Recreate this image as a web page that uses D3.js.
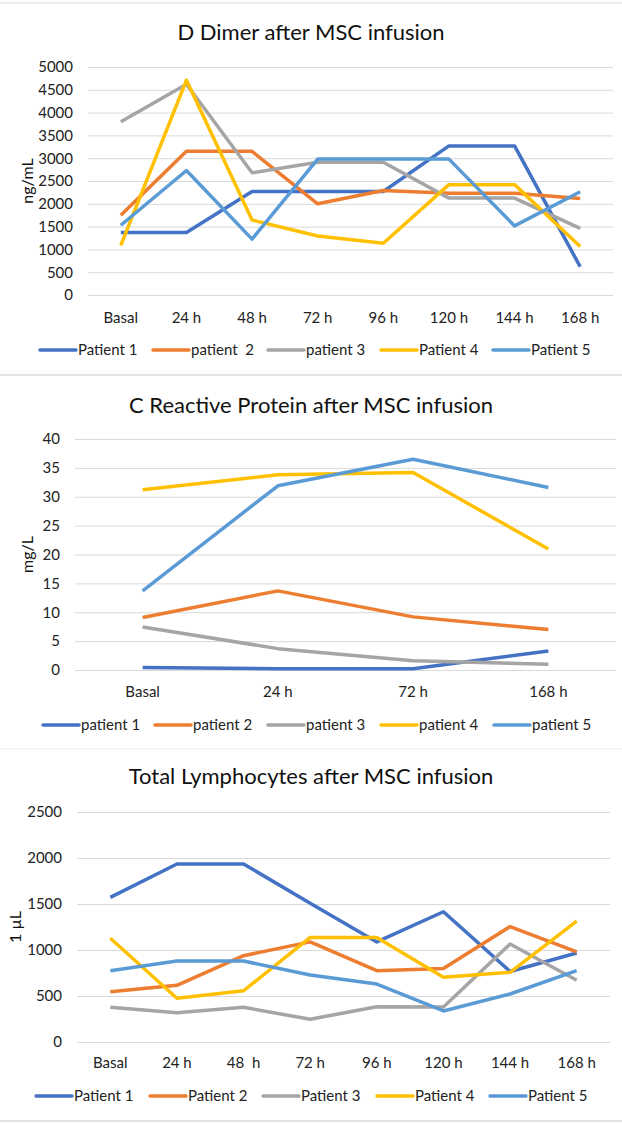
<!DOCTYPE html>
<html>
<head>
<meta charset="utf-8">
<script src="https://cdn.jsdelivr.net/npm/d3@7"></script>
<style>
  html, body { margin: 0; padding: 0; background: #fff; }
  svg { display: block; font-family: Lato, "Open Sans", sans-serif; }
</style>
</head>
<body>
<svg id="chart" width="622" height="1123"></svg>
<script>
/* global d3 */

// ─── Data ────────────────────────────────────────────────────────────────────

var COLORS = ['#4472C4', '#ED7D31', '#A5A5A5', '#FFC000', '#5B9BD5'];

// D Dimer (ng/mL)
var dimerTimes = ['Basal', '24 h', '48 h', '72 h', '96 h', '120 h', '144 h', '168 h'];
var dimerNames = ['Patient 1', 'patient  2', 'patient 3', 'Patient 4', 'Patient 5'];
var dimerP1 = [1370, 1370, 2270, 2270, 2270, 3270, 3270, 620];
var dimerP2 = [1750, 3150, 3150, 2000, 2290, 2230, 2230, 2115];
var dimerP3 = [3800, 4620, 2680, 2910, 2910, 2125, 2125, 1460];
var dimerP4 = [1090, 4710, 1645, 1295, 1135, 2420, 2420, 1065];
var dimerP5 = [1530, 2730, 1225, 2980, 2980, 2980, 1515, 2265];
var dimerTicks = [0, 500, 1000, 1500, 2000, 2500, 3000, 3500, 4000, 4500, 5000];

// C Reactive Protein (mg/L)
var crpTimes = ['Basal', '24 h', '72 h', '168 h'];
var crpNames = ['patient 1', 'patient 2', 'patient 3', 'patient 4', 'patient 5'];
var crpP1 = [0.45, 0.2, 0.2, 3.3];
var crpP2 = [9.1, 13.7, 9.2, 7.0];
var crpP3 = [7.45, 3.7, 1.6, 1.0];
var crpP4 = [31.2, 33.8, 34.2, 20.95];
var crpP5 = [13.7, 31.9, 36.5, 31.6];
var crpTicks = [0, 5, 10, 15, 20, 25, 30, 35, 40];

// Total Lymphocytes (/µL)
var lymTimes = ['Basal', '24 h', '48  h', '72 h', '96 h', '120 h', '144 h', '168 h'];
var lymNames = ['Patient 1', 'Patient 2', 'Patient 3', 'Patient 4', 'Patient 5'];
var lymP1 = [1572, 1935, 1935, 1507, 1088, 1416, 766, 968];
var lymP2 = [547, 616, 938, 1088, 775, 800, 1255, 980];
var lymP3 = [377, 318, 377, 247, 384, 380, 1065, 672];
var lymP4 = [1127, 475, 557, 1137, 1137, 703, 758, 1315];
var lymP5 = [775, 880, 880, 728, 630, 337, 522, 775];
var lymTicks = [0, 500, 1000, 1500, 2000, 2500];

// ─── Layout per panel ────────────────────────────────────────────────────────

var panels = [
  {
    title: 'D Dimer after MSC infusion', titleY: 40, unit: 'ng/mL', unitX: 27,
    times: dimerTimes, names: dimerNames, series: [dimerP1, dimerP2, dimerP3, dimerP4, dimerP5],
    ticks: dimerTicks, x0: 88, x1: 613, yTop: 67, yBottom: 295, tickX: 73,
    labelY: 323, legendY: 350, legendX: [40, 153, 268, 381, 493]
  },
  {
    title: 'C Reactive Protein after MSC infusion', titleY: 413, unit: 'mg/L', unitX: 27,
    times: crpTimes, names: crpNames, series: [crpP1, crpP2, crpP3, crpP4, crpP5],
    ticks: crpTicks, x0: 75, x1: 616, yTop: 439, yBottom: 670, tickX: 60,
    labelY: 697, legendY: 725, legendX: [43, 155, 268, 381, 494]
  },
  {
    title: 'Total Lymphocytes after MSC infusion', titleY: 784, unit: '1 µL', unitX: 15,
    times: lymTimes, names: lymNames, series: [lymP1, lymP2, lymP3, lymP4, lymP5],
    ticks: lymTicks, x0: 77, x1: 610, yTop: 812, yBottom: 1042, tickX: 62,
    labelY: 1068, legendY: 1096, legendX: [36, 150, 263, 377, 490]
  }
];

var svg = d3.select('#chart');

// panel separators
[[3, '#dcdcdc', 1.2], [375, '#dcdcdc', 1.5], [749, '#f3f3f3', 1.5], [1121, '#e3e3e3', 2]]
  .forEach(function (s) {
    svg.append('line')
      .attr('x1', 0).attr('x2', 622).attr('y1', s[0]).attr('y2', s[0])
      .attr('stroke', s[1]).attr('stroke-width', s[2]);
  });

function drawPanel(p) {
  var g = svg.append('g');

  var x = d3.scaleBand().domain(p.times).range([p.x0, p.x1]);
  var y = d3.scaleLinear()
    .domain([0, d3.max(p.ticks)])
    .range([p.yBottom, p.yTop]);

  g.append('text')
    .attr('x', 311).attr('y', p.titleY)
    .attr('text-anchor', 'middle')
    .attr('font-size', 22)
    .attr('fill', '#111')
    .text(p.title);

  // gridlines + y tick labels
  var yAxis = d3.axisLeft(y)
    .tickValues(p.ticks)
    .tickFormat(d3.format('d'))
    .tickSize(-(p.x1 - p.x0))
    .tickPadding(p.x0 - p.tickX);
  var ya = g.append('g')
    .attr('transform', 'translate(' + p.x0 + ',0)')
    .call(yAxis);
  ya.select('.domain').remove();
  ya.selectAll('.tick line').attr('stroke', '#d9d9d9').attr('stroke-width', 1);
  ya.selectAll('.tick text')
    .attr('font-size', 15).attr('fill', '#222')
    .attr('font-family', 'Lato, sans-serif');

  // x labels
  var xAxis = d3.axisBottom(x).tickSize(0).tickPadding(0);
  var xa = g.append('g')
    .attr('transform', 'translate(0,' + (p.labelY - 11) + ')')
    .call(xAxis);
  xa.select('.domain').remove();
  xa.selectAll('.tick text')
    .attr('font-size', 15).attr('fill', '#222')
    .attr('font-family', 'Lato, sans-serif')
    .style('white-space', 'pre');

  // y axis title
  g.append('text')
    .attr('transform', 'translate(' + p.unitX + ',' + ((p.yTop + p.yBottom) / 2) + ') rotate(-90)')
    .attr('text-anchor', 'middle')
    .attr('dy', '0.35em')
    .attr('font-size', 16)
    .attr('fill', '#111')
    .text(p.unit);

  var line = d3.line()
    .x(function (d, i) { return x(p.times[i]) + x.bandwidth() / 2; })
    .y(function (d) { return y(d); });

  p.series.forEach(function (vals, k) {
    g.append('path')
      .datum(vals)
      .attr('d', line)
      .attr('fill', 'none')
      .attr('stroke', COLORS[k])
      .attr('stroke-width', 3.5)
      .attr('stroke-linejoin', 'round');
  });

  // legend
  p.names.forEach(function (name, k) {
    var lx = p.legendX[k];
    g.append('line')
      .attr('x1', lx).attr('x2', lx + 36)
      .attr('y1', p.legendY).attr('y2', p.legendY)
      .attr('stroke', COLORS[k])
      .attr('stroke-width', 3.5)
      .attr('stroke-linecap', 'round');
    g.append('text')
      .attr('x', lx + 38).attr('y', p.legendY)
      .attr('dy', '0.35em')
      .attr('font-size', 15)
      .attr('fill', '#222')
      .style('white-space', 'pre')
      .text(name);
  });
}

panels.forEach(drawPanel);
</script>
</body>
</html>
